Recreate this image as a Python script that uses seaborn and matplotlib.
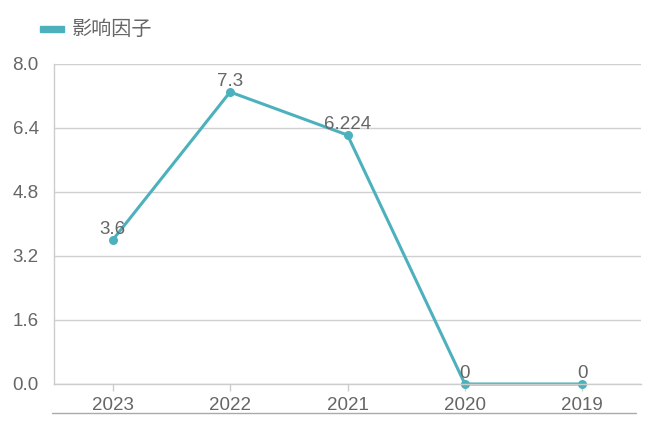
import pandas as pd
import seaborn as sns
import matplotlib.pyplot as plt
from matplotlib.lines import Line2D
from matplotlib.patches import Rectangle

years = ["2023", "2022", "2021", "2020", "2019"]
impact = [3.6, 7.3, 6.224, 0, 0]
impact_labels = ["3.6", "7.3", "6.224", "0", "0"]
yticks = [0.0, 1.6, 3.2, 4.8, 6.4, 8.0]
series_name = "影响因子"

teal = "#4DB1BD"
grey = "#666666"

sns.set_theme(style="white")
plt.rcParams["font.family"] = ["Liberation Sans", "Noto Sans CJK SC", "DejaVu Sans"]

df = pd.DataFrame({"year": years, "value": impact})

fig = plt.figure(figsize=(6.62, 4.42), dpi=100)
ax = fig.add_axes([54 / 662, 1 - 384 / 442, 587 / 662, 320 / 442])

sns.lineplot(data=df, x="year", y="value", ax=ax, color=teal, linewidth=2.2,
             marker="o", markersize=6.5, markeredgewidth=0, sort=False)
for line in ax.lines:
    line.set_clip_on(False)

for i, (v, lab) in enumerate(zip(impact, impact_labels)):
    ax.annotate(lab, (i, v), xytext=(0, 1.5), textcoords="offset points",
                ha="center", va="bottom", fontsize=13.5, color=grey)

ax.set_xlim(-0.5, len(years) - 0.5)
ax.set_ylim(0, 8)
ax.set_yticks(yticks)
ax.set_yticklabels([f"{t:.1f}" for t in yticks])
ax.set_xlabel("")
ax.set_ylabel("")
ax.grid(axis="y", color="#d0d0d0", linewidth=1)
ax.set_axisbelow(True)
for s in ["top", "right"]:
    ax.spines[s].set_visible(False)
for s in ["left", "bottom"]:
    ax.spines[s].set_color("#cccccc")
    ax.spines[s].set_linewidth(1)
ax.tick_params(axis="x", colors=grey, labelsize=13.5, length=5, width=1,
               color="#cccccc", pad=4, bottom=True)
ax.tick_params(axis="y", colors=grey, labelsize=13.5, length=0, pad=11)
for t in ax.get_xticklabels() + ax.get_yticklabels():
    t.set_color(grey)

# legend
fig.add_artist(Rectangle((40 / 662, 1 - 32 / 442), 24 / 662, 6 / 442,
                         transform=fig.transFigure, color=teal))
fig.text(72 / 662, 1 - 29 / 442, series_name, fontsize=14.5, color=grey,
         va="center", ha="left")

# bottom separator line
fig.add_artist(Line2D([52 / 662, 636 / 662], [1 - 413 / 442, 1 - 413 / 442],
                      transform=fig.transFigure, color="#aaaaaa", linewidth=1))

fig.savefig("out.png", dpi=100)
